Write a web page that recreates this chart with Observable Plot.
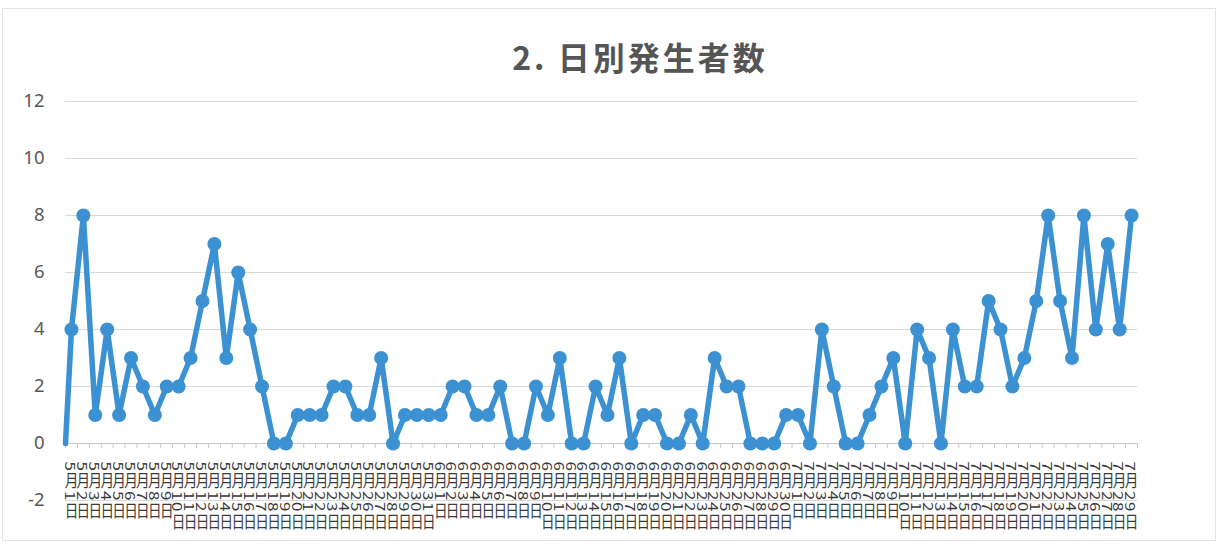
<!DOCTYPE html>
<html>
<head>
<meta charset="utf-8">
<script src="https://cdn.jsdelivr.net/npm/d3@7"></script>
<script src="https://cdn.jsdelivr.net/npm/@observablehq/plot@0.6"></script>
<style>
  html, body { margin: 0; padding: 0; background: #fff; }
  body { width: 1230px; height: 547px; position: relative; overflow: hidden; }
  #frame { position: absolute; left: 2px; top: 8px; width: 1212px; height: 531px; border: 1px solid #e4e4e4; }
  #title { position: absolute; left: 0; top: 37px; width: 1280px; text-align: center;
           font-family: "Noto Sans CJK JP", sans-serif; font-weight: 700; font-size: 32px;
           letter-spacing: 3px; color: #555555; line-height: 38px; }
  #chart { position: absolute; left: 0; top: 80px; }
</style>
</head>
<body>
<div id="frame"></div>
<div id="title">2. 日別発生者数</div>
<div id="chart"></div>
<script>
// Daily counts
const mayValues  = [4,8,1,4,1,3,2,1,2,2,3,5,7,3,6,4,2,0,0,1,1,1,2,2,1,1,3,0,1,1,1];
const juneValues = [1,2,2,1,1,2,0,0,2,1,3,0,0,2,1,3,0,1,1,0,0,1,0,3,2,2,0,0,0,1];
const julyValues = [1,0,4,2,0,0,1,2,3,0,4,3,0,4,2,2,5,4,2,3,5,8,5,3,8,4,7,4,8];
const months = [5, 6, 7];
const leadIn = 0;              // line starts at 0 on the axis edge
const yTicks = [-2, 0, 2, 4, 6, 8, 10, 12];

const series = [mayValues, juneValues, julyValues];
const data = [];
series.forEach((vals, m) => vals.forEach((v, d) => {
  data.push({i: data.length, v, label: `${months[m]}月${d + 1}日`});
}));
const n = data.length;
const lineData = [{i: -0.5, v: leadIn}, ...data];
const boundaries = d3.range(n + 1).map(k => k - 0.5);

const blue = "#3b91d2";
const chart = Plot.plot({
  width: 1230,
  height: 467,
  marginLeft: 65,
  marginRight: 93,
  marginTop: 21,
  marginBottom: 47,
  style: {background: "transparent", fontFamily: "Noto Sans, sans-serif"},
  x: {domain: [-0.5, n - 0.5], axis: null},
  y: {domain: [-2, 12], ticks: yTicks, tickSize: 0, tickPadding: 21, label: null,
      tickFormat: d => String(d)},
  marks: [
    Plot.ruleY(yTicks, {stroke: "#d9d9d9", strokeWidth: 1}),
    Plot.ruleY([0], {stroke: "#c8c8c8", strokeWidth: 1}),
    Plot.ruleX(boundaries, {y1: 0, y2: -0.18, stroke: "#c8c8c8", strokeWidth: 1}),
    Plot.line(lineData, {x: "i", y: "v", stroke: blue, strokeWidth: 5.5, strokeLinejoin: "round", strokeLinecap: "round"}),
    Plot.dot(data, {x: "i", y: "v", r: 7, fill: blue, stroke: null}),
    Plot.text(data, {x: "i", y: 0, text: "label", dy: 6, textAnchor: "start", lineAnchor: "top",
                     fontSize: 17, fill: "#3a3a3a", fontFamily: "Noto Sans CJK JP, sans-serif"})
  ]
});
document.getElementById("chart").appendChild(chart);

// y tick label styling
d3.select(chart).selectAll("g[aria-label='y-axis tick label'] text, g[aria-label='y-axis tick label']")
  .attr("fill", "#595959").style("font-size", "18.5px");

// stacked vertical date labels, squeezed horizontally
d3.select(chart).selectAll("g[aria-label='text'] text").each(function() {
  this.style.writingMode = "vertical-rl";
  this.style.letterSpacing = "1.5px";
  const t = this.getAttribute("transform");
  if (t) {
    this.setAttribute("transform", t + " scale(0.8,1)");
  } else {
    const x = +this.getAttribute("x") || 0, y = +this.getAttribute("y") || 0;
    this.removeAttribute("x"); this.removeAttribute("y");
    this.setAttribute("transform", `translate(${x},${y}) scale(0.8,1)`);
  }
});
</script>
</body>
</html>
